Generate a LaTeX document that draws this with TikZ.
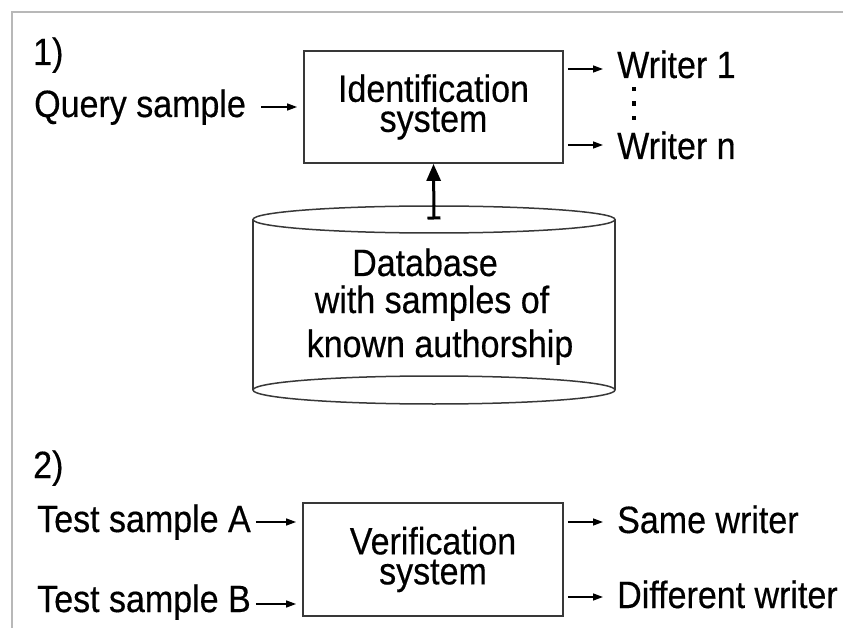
\documentclass[tikz,border=0pt]{standalone}
\usepackage{fontspec}
\setmainfont{Liberation Sans}[FakeStretch=0.895, FakeBold=0.4]
\usetikzlibrary{arrows.meta}
\definecolor{framegray}{gray}{0.72}
\definecolor{boxgray}{gray}{0.22}
\begin{document}
\begin{tikzpicture}[x=1pt,y=-1pt,
  txt/.style={font=\fontsize{38}{31}\selectfont},
  lbl/.style={txt, inner sep=0pt, anchor=base west},
  ctr/.style={txt, inner sep=0pt, anchor=base},
  sysbox/.style={txt, draw=boxgray, line width=1.8pt, inner sep=0pt, align=center},
  arr/.style={line width=1.4pt, -{Triangle[length=10pt,width=7pt]}},
  uparr/.style={line width=3pt, {Bar[width=13pt]}-{Triangle[length=17pt,width=14pt]}},
  cyl/.style={draw=boxgray, line width=1.5pt}]
\useasboundingbox (0,0) rectangle (843,628);
% open frame along the top and left edges
\draw[framegray, line width=1.4pt] (12,628) -- (12,12) -- (843,12);

% ---- 1) identification ----
\node[lbl] (one) at (33,65) {1)};
\node[lbl] (qs) at (34,117) {Query sample};
\node[sysbox, minimum width=259pt, minimum height=112pt] (id) at (433.5,107) {Identification\\[-1pt]system};
\node[lbl] (w1) at (617,78) {Writer 1};
\node[lbl] (wn) at (617,159) {Writer n};
\coordinate (a1) at (0,69);
\coordinate (an) at (0,145);
\draw[arr] ([xshift=15pt]qs.east |- id.west) -- ([xshift=-6pt]id.west);
\draw[arr] ([xshift=4pt]id.east |- a1) -- ([xshift=-14pt]w1.west |- a1);
\draw[arr] ([xshift=4pt]id.east |- an) -- ([xshift=-14pt]wn.west |- an);
% vertical ellipsis between the writers
\foreach \yy in {89,103.5,118}
  \fill (632,\yy-2.2) rectangle (636.4,\yy+2.2);

% database cylinder
\coordinate (dbtop) at (434,219.5);
\draw[cyl] (dbtop) ellipse [x radius=181pt, y radius=13.5pt];
\draw[cyl] (253,219.5) -- (253,390) (615,219.5) -- (615,390);
\draw[cyl] (434,390) ellipse [x radius=181pt, y radius=14pt];
\node[ctr] (db1) at (425,276) {Database};
\node[ctr] (db2) at (432,313) {with samples of};
\node[ctr] (db3) at (440,357) {known authorship};
\draw[uparr] (dbtop) -- (id.south);

% ---- 2) verification ----
\node[lbl] (two) at (33,478) {2)};
\node[lbl] (ta) at (37,532) {Test sample A};
\node[lbl] (tb) at (37,612) {Test sample B};
\node[sysbox, minimum width=260pt, minimum height=113pt] (ver) at (433,559.5) {Verification\\[-1pt]system};
\node[lbl] (sw) at (617,533) {Same writer};
\node[lbl] (dw) at (617,608) {Different writer};
\coordinate (ya) at (0,522);
\coordinate (yb) at (0,604);
\coordinate (ys) at (0,522);
\coordinate (yd) at (0,597);
\draw[arr] ([xshift=5pt]ta.east |- ya) -- ([xshift=-6pt]ver.west |- ya);
\draw[arr] ([xshift=5pt]tb.east |- yb) -- ([xshift=-6pt]ver.west |- yb);
\draw[arr] ([xshift=4pt]ver.east |- ys) -- ([xshift=-14pt]sw.west |- ys);
\draw[arr] ([xshift=4pt]ver.east |- yd) -- ([xshift=-14pt]dw.west |- yd);
\end{tikzpicture}
\end{document}
